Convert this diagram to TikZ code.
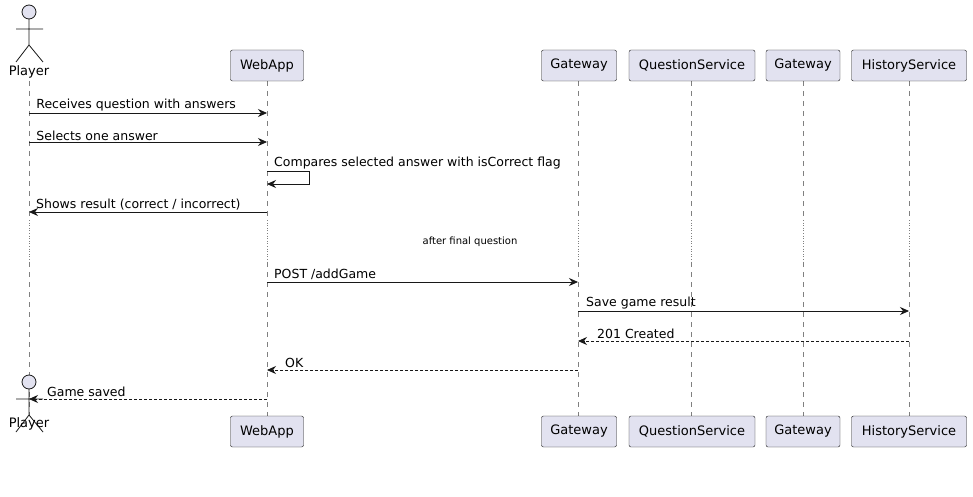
\documentclass[tikz,border=0pt]{standalone}
\usepackage{fontspec}
\setmainfont{DejaVu Sans}
\usetikzlibrary{arrows.meta}
\definecolor{pbox}{HTML}{E2E2F0}
\definecolor{pline}{HTML}{181818}
\begin{document}
\begin{tikzpicture}[x=1pt,y=-1pt,
  part/.style={draw=pline,fill=pbox,rounded corners=2pt,minimum height=31pt,inner sep=0pt,font=\fontsize{13}{15}\selectfont},
  life/.style={draw=gray,dash pattern=on 5pt off 5pt,line width=0.6pt},
  dly/.style={draw=gray,dotted,line width=0.6pt},
  msg/.style={draw=pline,line width=0.8pt,-{Stealth[length=9pt,width=8pt,inset=3pt]}},
  ret/.style={msg,dash pattern=on 3pt off 2pt},
  lbl/.style={font=\fontsize{12.5}{14}\selectfont,anchor=south west,inner sep=1pt},
  actor/.style={draw=pline,line width=0.8pt}]
\useasboundingbox (0,0) rectangle (973,497);
% lifelines
\foreach \n/\x in {p/29,w/267,g/578,q/691,h/803,s/909}{
  \coordinate (\n t) at (\x,81); \coordinate (\n a) at (\x,220); \coordinate (\n b) at (\x,262); \coordinate (\n e) at (\x,416);
  \draw[life] (\n t) -- (\n a); \draw[dly] (\n a) -- (\n b); \draw[life] (\n b) -- (\n e);}
% participants
\foreach \n/\x/\w/\t in {w/267/73/WebApp,g/579/75/Gateway,q/692/126/QuestionService,h/803/74/Gateway,s/909/115/HistoryService}{
  \node[part,minimum width=\w pt] (\n top) at (\x,65.5) {\t};
  \node[part,minimum width=\w pt] (\n bot) at (\x,431.5) {\t};}
% actors
\foreach \y/\k in {0/top,370/bot}{
  \begin{scope}[yshift=-\y pt]
  \draw[actor,fill=pbox] (29,12) circle (7pt);
  \draw[actor] (29,19) -- (29,45) (16,29) -- (43,29) (16,62) -- (29,45) -- (43,62);
  \end{scope}}
\node[font=\fontsize{13}{15}\selectfont,inner sep=0pt] (ptop) at (29,72) {Player};
\node[font=\fontsize{13}{15}\selectfont,inner sep=0pt] (pbot) at (29,424) {Player};
% messages
\foreach \n/\y in {1/113,2/142,4/212,6/282,7/311,8/341,9/370,10/399}{
  \foreach \l in {p,w,g,s}{\coordinate (\l\n) at ({\l t}|-0,\y);}}
\draw[msg] (p1) -- node[lbl,pos=0,anchor=south west,xshift=6pt] {Receives question with answers} (w1);
\draw[msg] (p2) -- node[lbl,pos=0,xshift=6pt] {Selects one answer} (w2);
\coordinate (sa) at (267,171); \coordinate (sb) at (309,171); \coordinate (sc) at (309,184); \coordinate (sd) at (267,184);
\draw[msg] (sa) -- (sb) -- (sc) -- (sd);
\node[lbl] at (273,170) {Compares selected answer with isCorrect flag};
\draw[msg] (w4) -- (p4);
\node[lbl] at (35,211) {Shows result (correct / incorrect)};
\node[font=\fontsize{10}{12}\selectfont] (dl) at (470,242) {after final question};
\draw[msg] (w6) -- (g6);
\node[lbl] at (273,281) {POST /addGame};
\draw[msg] (g7) -- (s7);
\node[lbl] at (585,310) {Save game result};
\draw[ret] (s8) -- (g8);
\node[lbl] at (596,340) {201 Created};
\draw[ret] (g9) -- (w9);
\node[lbl] at (284,369) {OK};
\draw[ret] (w10) -- (p10);
\node[lbl] at (46,398) {Game saved};
\end{tikzpicture}
\end{document}
